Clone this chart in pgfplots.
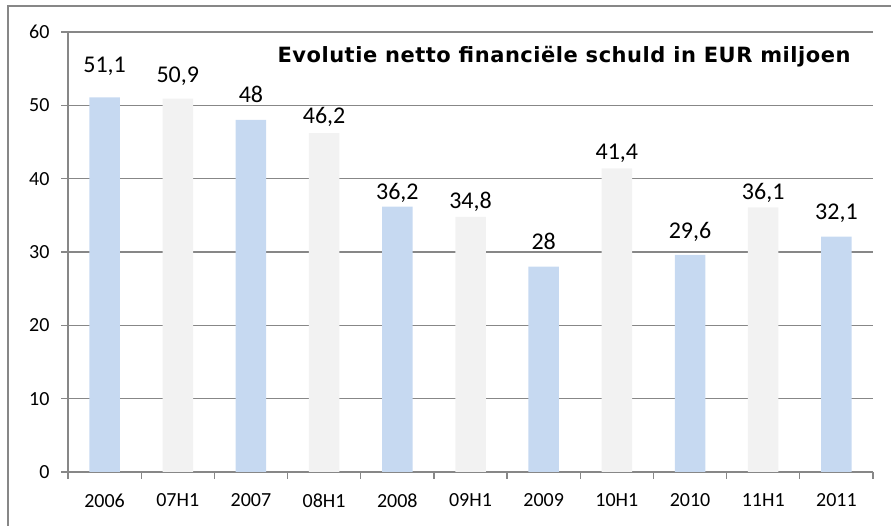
\documentclass[border=0pt]{standalone}
\usepackage{pgfplots}
\usepackage{pgfplotstable}
\pgfplotsset{compat=1.18}
\usepackage{fontspec}
\setmainfont{Carlito}
\newfontfamily\titlefont[LetterSpace=2.5]{DejaVu Sans}
\definecolor{barblue}{HTML}{C6D9F1}
\definecolor{bargray}{HTML}{F2F2F2}
\definecolor{gridgray}{HTML}{878787}

\pgfplotstableread{
x y off
1 51.1 25
3 48 17
5 36.2 6.7
7 28 16.7
9 29.6 16.7
11 32.1 16.7
}\bluedata
\pgfplotstableread{
x y off
2 50.9 16
4 46.2 9.4
6 34.8 8.4
8 41.4 9
10 36.1 7.7
}\graydata

\begin{document}
\begin{tikzpicture}[x=1pt,y=1pt]
\useasboundingbox (0,0) rectangle (891,526);
\draw[gridgray, line width=1.3pt] (8,-2) -- (8,520) -- (893,520);
\begin{axis}[
  at={(68pt,54pt)}, anchor=south west,
  scale only axis, width=805pt, height=440pt,
  xmin=0.5, xmax=11.5, ymin=0, ymax=60,
  xtick={0.5,1.5,...,11.5},
  x tick label as interval=true,
  xticklabels={2006,07H1,2007,08H1,2008,09H1,2009,10H1,2010,11H1,2011},
  ytick={0,10,...,60},
  axis x line*=bottom, axis y line*=left,
  axis line style={gridgray, line width=1.3pt},
  tick align=outside, major tick length=7pt,
  tick style={gridgray, line width=1.3pt},
  ymajorgrids, grid style={gridgray, line width=1.2pt},
  ticklabel style={font=\fontsize{20}{24}\selectfont},
  /pgf/number format/assume math mode=true,
  yticklabel style={xshift=-8pt},
  xticklabel style={yshift=-11pt},
  ybar, bar width=30.5pt,
  nodes near coords={\pgfmathprintnumber[use comma, fixed, precision=1]{\pgfplotspointmeta}},
  visualization depends on={\thisrow{off}\as\myoff},
  nodes near coords style={font=\fontsize{24}{28}\selectfont, anchor=base, yshift=\myoff pt, inner sep=0pt},
]
\addplot[fill=barblue, draw=none, bar shift=0pt] table[x=x,y=y] {\bluedata};
\addplot[fill=bargray, draw=none, bar shift=0pt] table[x=x,y=y] {\graydata};
\end{axis}
\node[anchor=base, font=\titlefont\bfseries\fontsize{21}{25}\selectfont] at (564,463) {Evolutie netto financiële schuld in EUR miljoen};
\end{tikzpicture}
\end{document}
